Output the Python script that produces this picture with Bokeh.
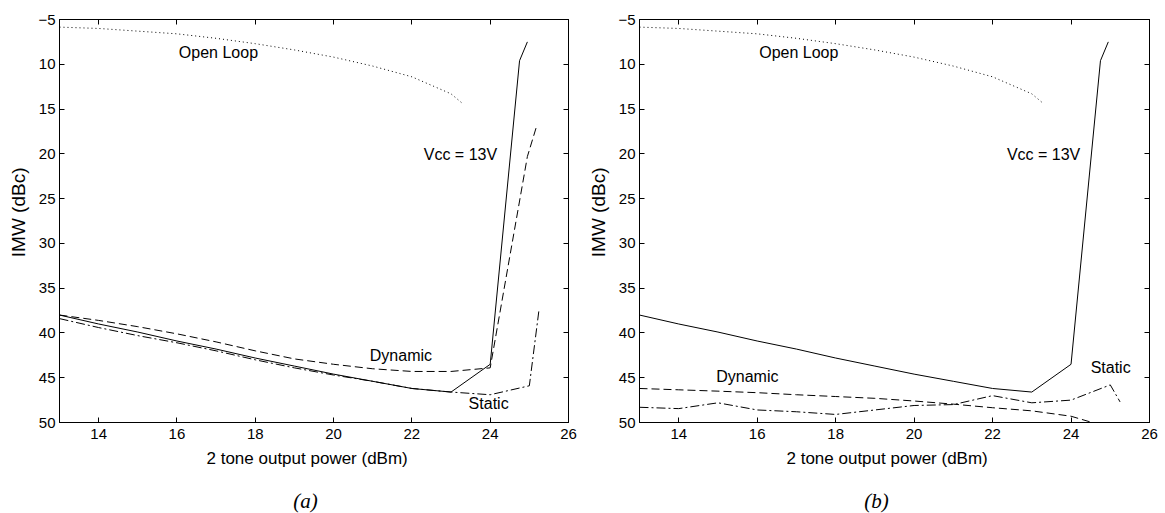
from bokeh.plotting import figure
from bokeh.models import Range1d, FixedTicker, LinearAxis, Label, Title
from bokeh.layouts import row, column
from bokeh.embed import file_html
from bokeh.resources import INLINE

# ---------------- data ----------------
open_x = [13, 14, 15, 16, 17, 18, 19, 20, 21, 22, 23, 23.3]
open_y = [5.85, 6.0, 6.3, 6.6, 7.1, 7.7, 8.4, 9.2, 10.2, 11.4, 13.3, 14.4]

vcc_x = [13, 14, 15, 16, 17, 18, 19, 20, 21, 22, 23, 24, 24.75, 24.95]
vcc_y = [38.0, 39.0, 39.9, 40.9, 41.8, 42.8, 43.7, 44.6, 45.4, 46.2, 46.6, 43.5, 9.6, 7.5]

a_dyn_x = [13, 14, 15, 16, 17, 18, 19, 20, 21, 22, 23, 24, 24.95, 25.2]
a_dyn_y = [38.0, 38.6, 39.3, 40.1, 41.0, 42.0, 42.9, 43.5, 44.0, 44.3, 44.3, 43.9, 20.3, 16.7]

a_sta_x = [13, 14, 15, 16, 17, 18, 19, 20, 21, 22, 23, 24, 25, 25.25]
a_sta_y = [38.4, 39.4, 40.3, 41.1, 42.0, 43.0, 43.9, 44.7, 45.4, 46.2, 46.6, 46.9, 45.9, 37.3]

b_dyn_x = [13, 14, 15, 16, 17, 18, 19, 20, 21, 22, 23, 24, 25]
b_dyn_y = [46.2, 46.35, 46.5, 46.67, 46.9, 47.1, 47.3, 47.6, 47.95, 48.35, 48.7, 49.3, 50.6]

b_sta_x = [13, 14, 15, 16, 17, 18, 19, 20, 21, 22, 23, 24, 25, 25.25]
b_sta_y = [48.3, 48.45, 47.8, 48.6, 48.8, 49.1, 48.6, 48.1, 48.0, 47.0, 47.8, 47.5, 45.8, 47.7]

x_ticks = [14, 16, 18, 20, 22, 24, 26]
y_ticks = [5, 10, 15, 20, 25, 30, 35, 40, 45, 50]
y_tick_overrides = {5: "\u22125"}

x_label = "2 tone output power (dBm)"
y_label = "IMW (dBc)"
captions = ["(a)", "(b)"]

FONT = "Liberation Sans"
MAIN_H = 476
CAP_H = 37


def style_axis(ax, labels=True):
    ax.axis_line_color = "black"
    ax.axis_line_width = 1
    ax.major_tick_line_color = "black"
    ax.major_tick_in = 5
    ax.major_tick_out = 0
    ax.minor_tick_line_color = None
    ax.major_label_text_font = FONT
    if labels:
        ax.major_label_text_color = "black"
        ax.major_label_text_font_size = "15px"
    else:
        ax.major_label_text_color = None
        ax.major_label_text_font_size = "1px"
        ax.major_label_standoff = 0


def make_panel(width, min_left, min_right, dyn_x, dyn_y, sta_x, sta_y, labels):
    p = figure(width=width, height=MAIN_H, x_range=Range1d(13, 26), y_range=Range1d(50, 5),
               output_backend="svg", toolbar_location=None,
               min_border_left=min_left, min_border_right=min_right,
               min_border_top=19, min_border_bottom=MAIN_H - 19 - 403)
    p.grid.visible = False
    p.outline_line_color = "black"
    p.background_fill_color = "white"
    p.border_fill_color = "white"

    p.xaxis.ticker = FixedTicker(ticks=x_ticks)
    p.yaxis.ticker = FixedTicker(ticks=y_ticks)
    p.yaxis.major_label_overrides = y_tick_overrides
    style_axis(p.xaxis[0])
    style_axis(p.yaxis[0])
    p.xaxis.major_label_standoff = 6
    p.yaxis.major_label_standoff = 4

    top = LinearAxis(ticker=FixedTicker(ticks=x_ticks))
    right = LinearAxis(ticker=FixedTicker(ticks=y_ticks))
    style_axis(top, labels=False)
    style_axis(right, labels=False)
    p.add_layout(top, "above")
    p.add_layout(right, "right")

    p.line(open_x, open_y, color="black", line_width=1, line_dash="1 3")
    p.line(vcc_x, vcc_y, color="black", line_width=1)
    p.line(dyn_x, dyn_y, color="black", line_width=1, line_dash="8 4")
    p.line(sta_x, sta_y, color="black", line_width=1, line_dash="9 3 2 3")

    for (lx, ly, t) in labels:
        p.add_layout(Label(x=lx, y=ly, text=t, text_font=FONT, text_font_size="16px",
                           text_align="center", text_baseline="middle", text_color="black"))

    p.add_layout(Title(text=x_label, align="left", offset=147, standoff=12,
                       vertical_align="middle", text_font=FONT, text_font_size="17px",
                       text_font_style="normal", text_color="black"), "below")
    p.add_layout(Title(text=y_label, align="right", offset=148, standoff=12,
                       vertical_align="middle", text_font=FONT, text_font_size="19px",
                       text_font_style="normal", text_color="black"), "left")
    return p


def make_caption(width, cx, text):
    c = figure(width=width, height=CAP_H, x_range=Range1d(0, width), y_range=Range1d(0, CAP_H),
               output_backend="svg", toolbar_location=None,
               x_axis_type=None, y_axis_type=None,
               min_border_left=0, min_border_right=0, min_border_top=0, min_border_bottom=0)
    c.grid.visible = False
    c.outline_line_color = None
    c.background_fill_color = "white"
    c.border_fill_color = "white"
    c.add_layout(Label(x=cx, y=13, text=text, text_font="Liberation Serif",
                       text_font_size="21px", text_font_style="italic",
                       text_align="center", text_baseline="middle", text_color="black"))
    return c


labels_a = [(17.06, 8.65, "Open Loop"), (23.24, 20.1, "Vcc = 13V"),
            (21.72, 42.57, "Dynamic"), (23.96, 47.9, "Static")]
labels_b = [(17.06, 8.65, "Open Loop"), (23.3, 20.1, "Vcc = 13V"),
            (15.75, 44.9, "Dynamic"), (25.01, 43.87, "Static")]

pa = make_panel(580, 57, 12, a_dyn_x, a_dyn_y, a_sta_x, a_sta_y, labels_a)
pb = make_panel(585, 57, 16, b_dyn_x, b_dyn_y, b_sta_x, b_sta_y, labels_b)
ca = make_caption(580, 305, captions[0])
cb = make_caption(585, 296, captions[1])

layout = column(row(pa, pb), row(ca, cb))
open("out.html", "w").write(file_html(layout, INLINE))
